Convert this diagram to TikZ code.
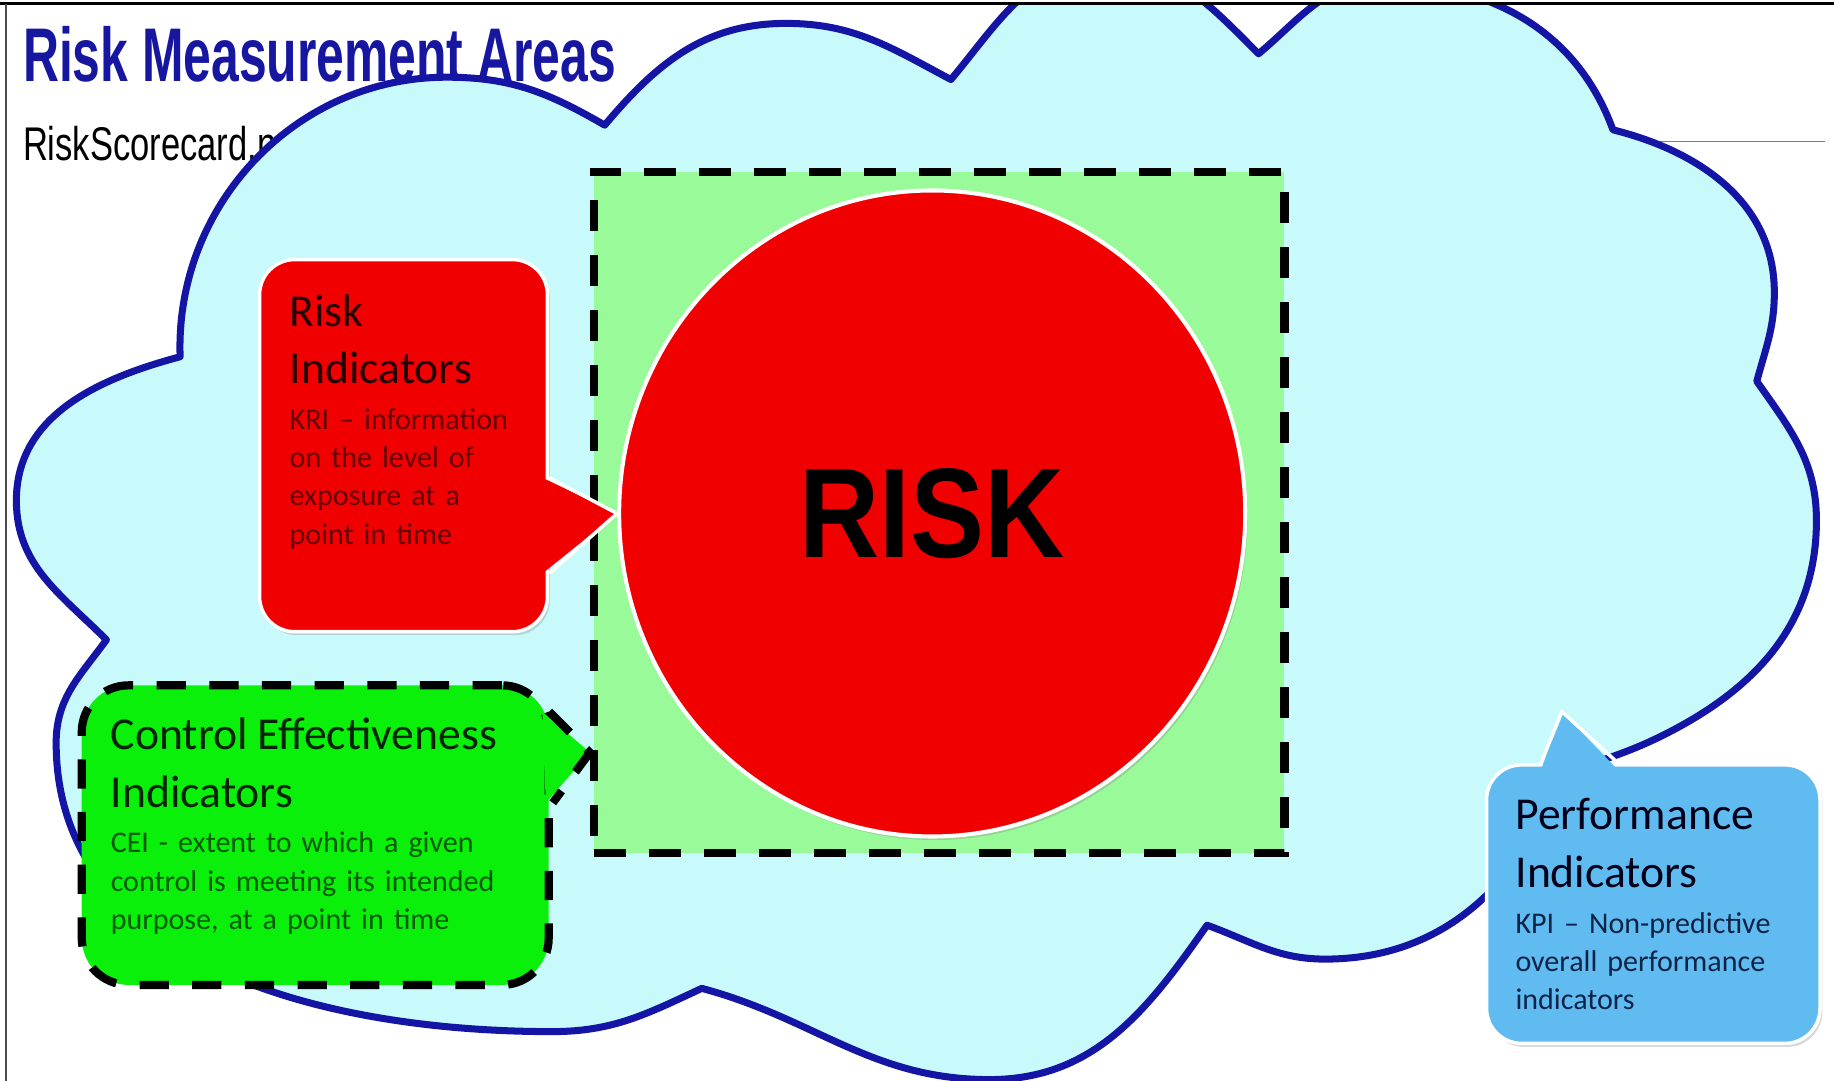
\documentclass[tikz,border=0pt]{standalone}
\usepackage{fontspec}
\setmainfont{Carlito}
\newfontfamily\headfont{Liberation Sans}
\usetikzlibrary{calc,shapes.geometric,shadows}
\definecolor{cloudfill}{RGB}{200,250,252}
\definecolor{cloudline}{RGB}{20,20,165}
\definecolor{areagreen}{RGB}{152,250,152}
\definecolor{riskred}{RGB}{240,0,0}
\definecolor{ceigreen}{RGB}{10,240,10}
\definecolor{kpiblue}{RGB}{95,187,240}
\definecolor{titleblue}{RGB}{22,22,160}
\tikzset{>=latex,
  cloud/.style={draw=cloudline, fill=cloudfill, line width=0.06cm, line join=round},
  riskarea/.style={fill=areagreen, draw=black, line width=0.07cm,
    dash pattern=on 0.27cm off 0.2cm, minimum width=5.9cm, minimum height=5.82cm},
  riskcircle/.style={ellipse, fill=riskred, draw=white, line width=0.035cm,
    minimum width=5.35cm, minimum height=5.52cm,
    drop shadow={shadow xshift=0.02cm, shadow yshift=-0.03cm, opacity=0.3}},
  bubble/.style={rectangle, rounded corners=0.3cm, inner sep=0pt},
  bubbletext/.style={anchor=north west, inner sep=0pt, align=left,
    font=\fontsize{7.3}{9.3}\selectfont}}
\newcommand\bubbletitle[2]{{\fontsize{11.1}{14}\selectfont\color{#1}#2\par}\vspace{1.8pt}}

\begin{document}
\begin{tikzpicture}[x=0.01cm, y=-0.01cm]
  \useasboundingbox (0,0) rectangle (1568,924);
  \fill[white] (0,0) rectangle (1568,924);

  % heading
  \node[anchor=base west, inner sep=0pt, text=titleblue] (title) at (19,70)
    {\headfont\bfseries\fontsize{18.5}{18.5}\selectfont\scalebox{0.655}[1]{Risk Measurement Areas}};
  \node[anchor=base west, inner sep=0pt] (site) at (19,137)
    {\headfont\fontsize{11.5}{11.5}\selectfont\scalebox{0.73}[1]{RiskScorecard.net}};
  \draw[gray, line width=0.012cm] (1400,121) -- (1560,121);

  % cloud, one arc per lobe
  \begin{scope}
    \clip (0,4) rectangle (1568,924);
    \draw[cloud] (154,305) to[out=92,in=180] (382,66) to[out=0,in=150] (517,107)
      to[out=50,in=180] (672,20) to[out=0,in=152] (813,68)
      to[out=50,in=180] (945,-30) to[out=0,in=135] (1076,46)
      to[out=40,in=180] (1180,-15) to[out=0,in=110] (1379,111)
      to[out=-14,in=90] (1517,250) to[out=270,in=75] (1502,326)
      to[out=-55,in=90] (1553,445) to[out=270,in=27] (1425,627) to[out=207,in=20] (1335,662)
      to[out=250,in=0] (1133,820) to[out=180,in=-20] (1032,791)
      to[out=235,in=0] (846,923) to[out=180,in=-15] (600,845)
      to[out=205,in=0] (472,882) to[out=180,in=270] (48,635) to[out=90,in=234] (91,547)
      to[out=135,in=270] (14,428) to[out=90,in=195] (154,305) -- cycle;
  \end{scope}
  \draw[line width=0.025cm] (0,3) -- (1568,3);
  \draw[black!70, line width=0.015cm] (5,3) -- (5,924);

  % risk in the middle
  \node[riskarea] (area) at (803,438) {};
  \node[riskcircle] (risk) at (797,439)
    {\headfont\bfseries\fontsize{31}{31}\selectfont\scalebox{0.87}[1]{RISK}};

  % KRI
  \node[bubble, fill=riskred, draw=white, line width=0.03cm, minimum width=2.46cm, minimum height=3.18cm,
    drop shadow={shadow xshift=0.02cm, shadow yshift=-0.03cm, opacity=0.3}] (kri) at (345,381) {};
  \fill[riskred] ($(kri.north east)+(-6,188)$) -- (risk.west) -- ($(kri.north east)+(-6,270)$) -- cycle;
  \draw[white, line width=0.03cm] ($(kri.north east)+(0,188)$) -- (risk.west) -- ($(kri.north east)+(0,270)$);
  \node[bubbletext, text width=2.1cm, text={rgb,255:red,100;green,0;blue,0}] (kritext) at (247,251)
    {\bubbletitle{black!85!red}{Risk\\Indicators}KRI – information\\on the level of\\exposure at a\\point in time};

  % CEI
  \node[bubble, rounded corners=0.4cm, fill=ceigreen, draw=black, line width=0.07cm,
    dash pattern=on 0.25cm off 0.2cm, minimum width=3.99cm, minimum height=2.56cm] (cei) at (269.5,714) {};
  \fill[ceigreen] ($(cei.north east)+(-9,26)$) -- ($(area.north west)+(0,500)$) -- ($(cei.north east)+(-6,104)$) -- cycle;
  \draw[line width=0.07cm, dash pattern=on 0.25cm off 0.2cm] ($(cei.north east)+(-3,26)$)
    -- ($(area.north west)+(0,500)$) -- ($(cei.north east)+(0,104)$);
  \node[bubbletext, text width=3.7cm, text={rgb,255:red,0;green,90;blue,0}] (ceitext) at (94,613)
    {\bubbletitle{black!85!green}{Control Effectiveness\\Indicators}CEI - extent to which a given\\control is meeting its intended\\purpose, at a point in time};

  % KPI
  \node[bubble, fill=kpiblue, draw=white, line width=0.03cm, minimum width=2.85cm, minimum height=2.38cm,
    drop shadow={shadow xshift=0.02cm, shadow yshift=-0.03cm, opacity=0.3}] (kpi) at (1413.5,773) {};
  \fill[kpiblue] ($(kpi.north west)+(48,6)$) -- ($(kpi.north west)+(66,-44)$) -- ($(kpi.north west)+(114,6)$) -- cycle;
  \draw[white, line width=0.03cm] ($(kpi.north west)+(48,0)$) -- ($(kpi.north west)+(66,-44)$) -- ($(kpi.north west)+(114,0)$);
  \node[bubbletext, text width=2.6cm, text={rgb,255:red,15;green,35;blue,70}] (kpitext) at (1295,682)
    {\bubbletitle{black!90!blue}{Performance\\Indicators}KPI – Non-predictive\\overall performance\\indicators};
\end{tikzpicture}
\end{document}
